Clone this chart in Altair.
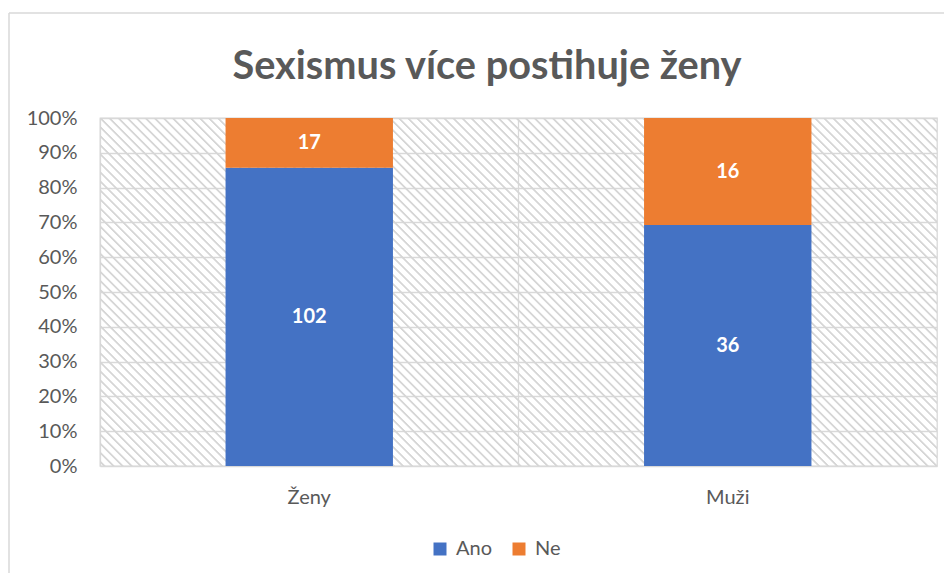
import altair as alt
import pandas as pd

# ---- data ----
categories = ["Ženy", "Muži"]
answers = ["Ano", "Ne"]
answer_order = [0, 1]
ano_counts = [102, 36]
ne_counts = [17, 16]
colors = ["#4472C4", "#ED7D31"]
y_ticks = [0, 0.1, 0.2, 0.3, 0.4, 0.5, 0.6, 0.7, 0.8, 0.9, 1.0]
title_text = ["Sexismus více postihuje ženy"]

rows = []
for i, c in enumerate(categories):
    rows.append({"gender": c, "answer": answers[0], "order": answer_order[0], "count": ano_counts[i]})
    rows.append({"gender": c, "answer": answers[1], "order": answer_order[1], "count": ne_counts[i]})
df = pd.DataFrame(rows)

# ---- layout / style ----
W, H = 837, 348
FONT = "Lato"
TXT = "#595959"
GRID = "#d9d9d9"

# light downward diagonal hatch as a repeated gradient (style only)
L = W + H
lam = L / (W * W + H * H)
N_STRIPES = 131
stops = []
clear = "rgba(214,214,214,0)"
stripe = "#d6d6d6"
for k in range(N_STRIPES):
    stops += [
        alt.GradientStop(offset=k / N_STRIPES, color=clear),
        alt.GradientStop(offset=(k + 0.3) / N_STRIPES, color=clear),
        alt.GradientStop(offset=(k + 0.42) / N_STRIPES, color=stripe),
        alt.GradientStop(offset=(k + 0.58) / N_STRIPES, color=stripe),
        alt.GradientStop(offset=(k + 0.7) / N_STRIPES, color=clear),
    ]
hatch_fill = alt.Gradient(
    gradient="linear", stops=stops,
    x1=0, y1=1, x2=lam * W, y2=1 - lam * H,
)

one = pd.DataFrame({"k": [0]})
hatch = alt.Chart(one).mark_rect(fill=hatch_fill, strokeWidth=0).encode(
    x=alt.value(0), x2=alt.value(W), y=alt.value(0), y2=alt.value(H)
)

base = alt.Chart(df).transform_stack(
    stack="count", groupby=["gender"], as_=["y0", "y1"], offset="normalize",
    sort=[alt.SortField("order", order="ascending")],
).transform_calculate(mid="(datum.y0 + datum.y1) / 2")

x_axis = alt.Axis(title=None, labelAngle=0, grid=True, bandPosition=0,
                  gridColor=GRID, gridWidth=1.3, ticks=False, domain=False,
                  labelFont=FONT, labelFontSize=20, labelColor=TXT,
                  labelPadding=21)
x_scale = alt.Scale(paddingInner=0, paddingOuter=0)
y_axis = alt.Axis(title=None, values=y_ticks, format=".0%", grid=True,
                  gridColor=GRID, gridWidth=1.3, ticks=False, domain=False,
                  labelFont=FONT, labelFontSize=20, labelColor=TXT,
                  labelPadding=23, labelOverlap=False, tickCount=11)
y_scale = alt.Scale(domain=[0, 1], nice=False)

bars = base.mark_bar(width=alt.RelativeBandSize(band=0.4)).encode(
    x=alt.X("gender:N", sort=categories, scale=x_scale, axis=x_axis),
    y=alt.Y("y0:Q", scale=y_scale, axis=y_axis),
    y2="y1:Q",
    color=alt.Color(
        "answer:N", scale=alt.Scale(domain=answers, range=colors),
        legend=alt.Legend(title=None, orient="none", direction="horizontal",
                          legendX=330, legendY=421, symbolType="square",
                          symbolSize=169, symbolStrokeWidth=0, labelFont=FONT,
                          labelFontSize=20, labelColor=TXT, labelOffset=6,
                          columnPadding=17, padding=0),
    ),
)

labels = base.mark_text(font=FONT, fontWeight="bold", fontSize=20,
                        color="white", baseline="middle").encode(
    x=alt.X("gender:N", sort=categories, scale=x_scale, axis=x_axis),
    y=alt.Y("mid:Q", scale=y_scale, axis=y_axis),
    text=alt.Text("count:Q"),
)

title = alt.Chart(pd.DataFrame({"t": title_text})).mark_text(
    font=FONT, fontSize=39.7, fontWeight="bold", color=TXT,
    align="center", baseline="alphabetic",
).encode(x=alt.value(387), y=alt.value(-39), text="t:N")

frame_left = alt.Chart(one).mark_rule(color=GRID, strokeWidth=1.5).encode(
    x=alt.value(-91), y=alt.value(-105), y2=alt.value(H + 107)
)
frame_top = alt.Chart(one).mark_rule(color=GRID, strokeWidth=1.5).encode(
    x=alt.value(-91), x2=alt.value(W + 7), y=alt.value(-105)
)

chart = alt.layer(hatch, bars, labels, title, frame_left, frame_top).properties(
    width=W, height=H,
    autosize=alt.AutoSizeParams(type="none"),
    padding={"left": 92, "top": 110, "right": 7, "bottom": 107},
).configure_view(stroke=GRID, strokeWidth=1.3)

chart.save("out.html", embed_options={"renderer": "svg", "actions": False})
